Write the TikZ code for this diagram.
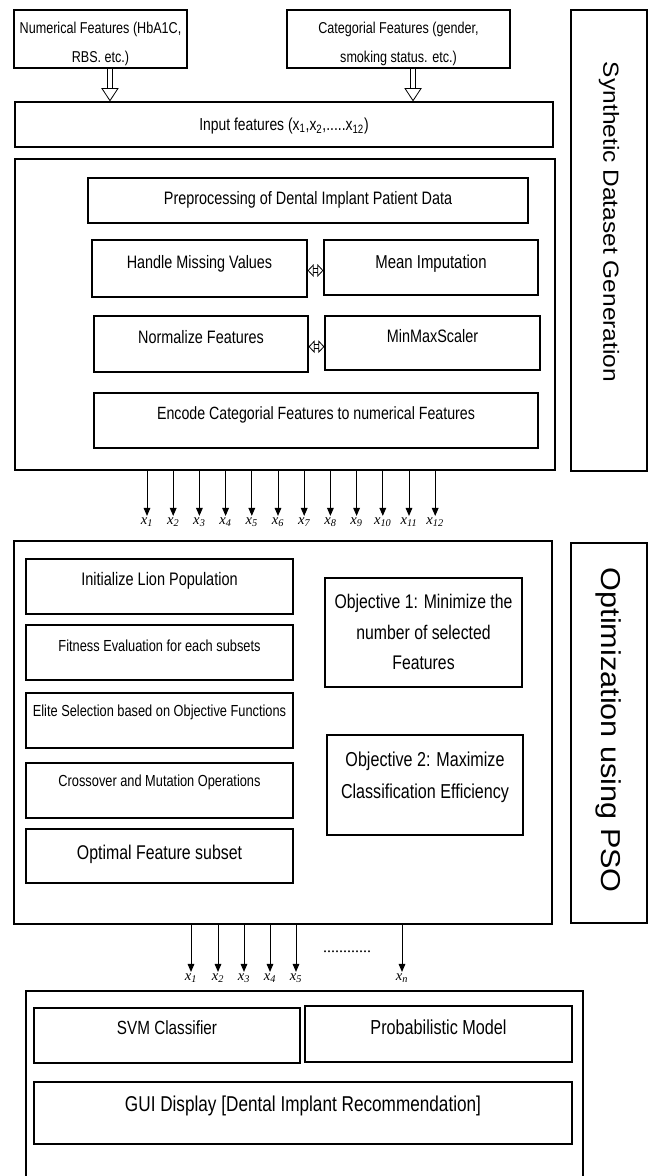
\documentclass[tikz,border=0pt]{standalone}
\usepackage{fontspec}
\newfontfamily\condfont{Liberation Sans}[FakeStretch=0.8]
\newfontfamily\widefont{Liberation Sans}[FakeStretch=1.12]
\newfontfamily\timesfont{Liberation Serif}
\usetikzlibrary{arrows.meta}
\tikzset{
	blk/.style={draw, line width=0.9pt, inner sep=0pt, align=center,
			font=\condfont\fontsize{13.5}{16}\selectfont},
	area/.style args={#1/#2/#3/#4}{at={({(#1+#3)/2},{(#2+#4)/2})},
			minimum width={(#3-#1)*0.75pt}, minimum height={(#4-#2)*0.75pt}},
	sz/.style 2 args={font=\condfont\fontsize{#1}{#2}\selectfont},
	tpos/.style 2 args={text height=#1pt, text depth=#2pt},
	rot/.style={font=\widefont\fontsize{#1}{#1}\selectfont, rotate=-90},
	xl/.style={font=\timesfont\itshape\fontsize{11}{11}\selectfont, inner sep=1pt},
	feat/.style={line width=0.7pt, -{Triangle[length=6pt, width=5pt]}},
	hollow/.style={double, double distance=3pt, line width=0.6pt,
			-{Triangle[open, length=10pt, width=13pt, line width=0.6pt]}},
	twoway/.style={double, double distance=2.5pt, line width=0.6pt,
			{Triangle[open, length=4.5pt, width=9.5pt, line width=0.6pt]}-{Triangle[open, length=4.5pt, width=9.5pt, line width=0.6pt]}}
}
\begin{document}
\begin{tikzpicture}[x=0.75pt, y=-0.75pt]
	\useasboundingbox (0,0) rectangle (653,1176);
	\clip (0,0) rectangle (653,1176);
	% data sources
	\node[blk, sz={11.8}{21.75}, tpos={35.25}{0}, area=14/10/187/68] (num) {Numerical Features (HbA1C,\\RBS. etc.)};
	\node[blk, sz={11.8}{21.75}, tpos={35.25}{0}, area=287/10/510/68] (cat) {Categorial Features (gender,\\smoking status. etc.)};
	\node[blk, sz={13}{16}, tpos={8.4}{0}, area=15/102/553/147] (inp) {Input features (x\textsubscript{1},x\textsubscript{2},.....x\textsubscript{12})};
	\draw[hollow] ([xshift=7.1pt]num.south) -- ([xshift=7.1pt]num.south |- inp.north);
	\draw[hollow] ([xshift=10.9pt]cat.south) -- ([xshift=10.9pt]cat.south |- inp.north);

	% preprocessing
	\node[blk, area=15/159/555/470] (pre) {};
	\node[blk, tpos={5.7}{0}, area=88/178/528/223] (prep) {Preprocessing of Dental Implant Patient Data};
	\node[blk, tpos={0}{0}, area=92/240/307/297] (miss) {Handle Missing Values};
	\node[blk, sz={14}{16}, tpos={1.5}{0}, area=324/240/538/295] (mean) {Mean Imputation};
	\node[blk, tpos={0}{1}, area=94/316/308/372] (norm) {Normalize Features};
	\node[blk, tpos={0}{0}, area=325/316/540/370] (mms) {MinMaxScaler};
	\node[blk, sz={13.3}{16}, tpos={0}{2}, area=94/393/538/448] (enc) {Encode Categorial Features to numerical Features};
	\draw[twoway] ([yshift=-1.5pt]miss.east) -- ([yshift=-1.5pt]miss.east -| mean.west);
	\draw[twoway] ([yshift=-2pt]norm.east) -- ([yshift=-2pt]norm.east -| mms.west);
	\node[blk, area=571/10/647/471] (synbox) {};
	\node[rot=16.4] (syn) at ([yshift=13.9pt]synbox.center) {Synthetic Dataset Generation};

	% twelve features
	\foreach \i in {1,...,12}
		\node[xl] (f\i) at ({147+26.2*(\i-1)},522) {x\textsubscript{\i}};
	\foreach \i in {1,...,12}
		\draw[feat] (f\i |- pre.south) -- (f\i.north);

	% optimisation
	\node[blk, area=14/541/552/924] (opt) {};
	\node[blk, sz={13.6}{16}, tpos={0}{1.8}, area=26/559/293/614] (init) {Initialize Lion Population};
	\node[blk, sz={12}{15}, tpos={0}{1.3}, area=26/625/293/680] (fitn) {Fitness Evaluation for each subsets};
	\node[blk, sz={12}{15}, tpos={0}{5.9}, area=26/693/293/748] (elite) {Elite Selection based on Objective Functions};
	\node[blk, sz={12}{15}, tpos={0}{5.9}, area=26/763/293/818] (cross) {Crossover and Mutation Operations};
	\node[blk, sz={14.9}{18}, tpos={4.5}{0}, area=26/829/293/883] (best) {Optimal Feature subset};
	\node[blk, sz={14.8}{23}, tpos={56.1}{0}, area=325/578/522/687] (obj1) {Objective 1: Minimize the\\number of selected\\Features};
	\node[blk, sz={15.1}{24}, tpos={19.6}{0}, area=327/735/523/835] (obj2) {Objective 2: Maximize\\Classification Efficiency};
	\node[blk, area=571/543/647/923] (psobox) {};
	\node[rot=20.5] (pso) at ([yshift=2pt]psobox.center) {Optimization using PSO};

	% selected subset
	\foreach \i/\xx in {1/191,2/218,3/244,4/270,5/296,n/402}
		\node[xl] (s\i) at (\xx,978) {x\textsubscript{\i}};
	\foreach \i in {1,2,3,4,5,n}
		\draw[feat] (s\i |- opt.south) -- (s\i.north);
	\node[font=\timesfont\fontsize{12}{12}\selectfont] (gap) at (347,952) {............};

	% classification
	\node[blk, area=26/991/583/1200] (clf) {};
	\node[blk, sz={14.3}{16}, tpos={0}{1.2}, area=34/1008/300/1063] (svm) {SVM Classifier};
	\node[blk, sz={15.2}{18}, tpos={0}{0}, area=305/1006/572/1062] (prob) {Probabilistic Model};
	\node[blk, sz={16.1}{18}, tpos={0}{2.3}, area=34/1082/572/1144] (gui) {GUI Display [Dental Implant Recommendation]};
\end{tikzpicture}
\end{document}
